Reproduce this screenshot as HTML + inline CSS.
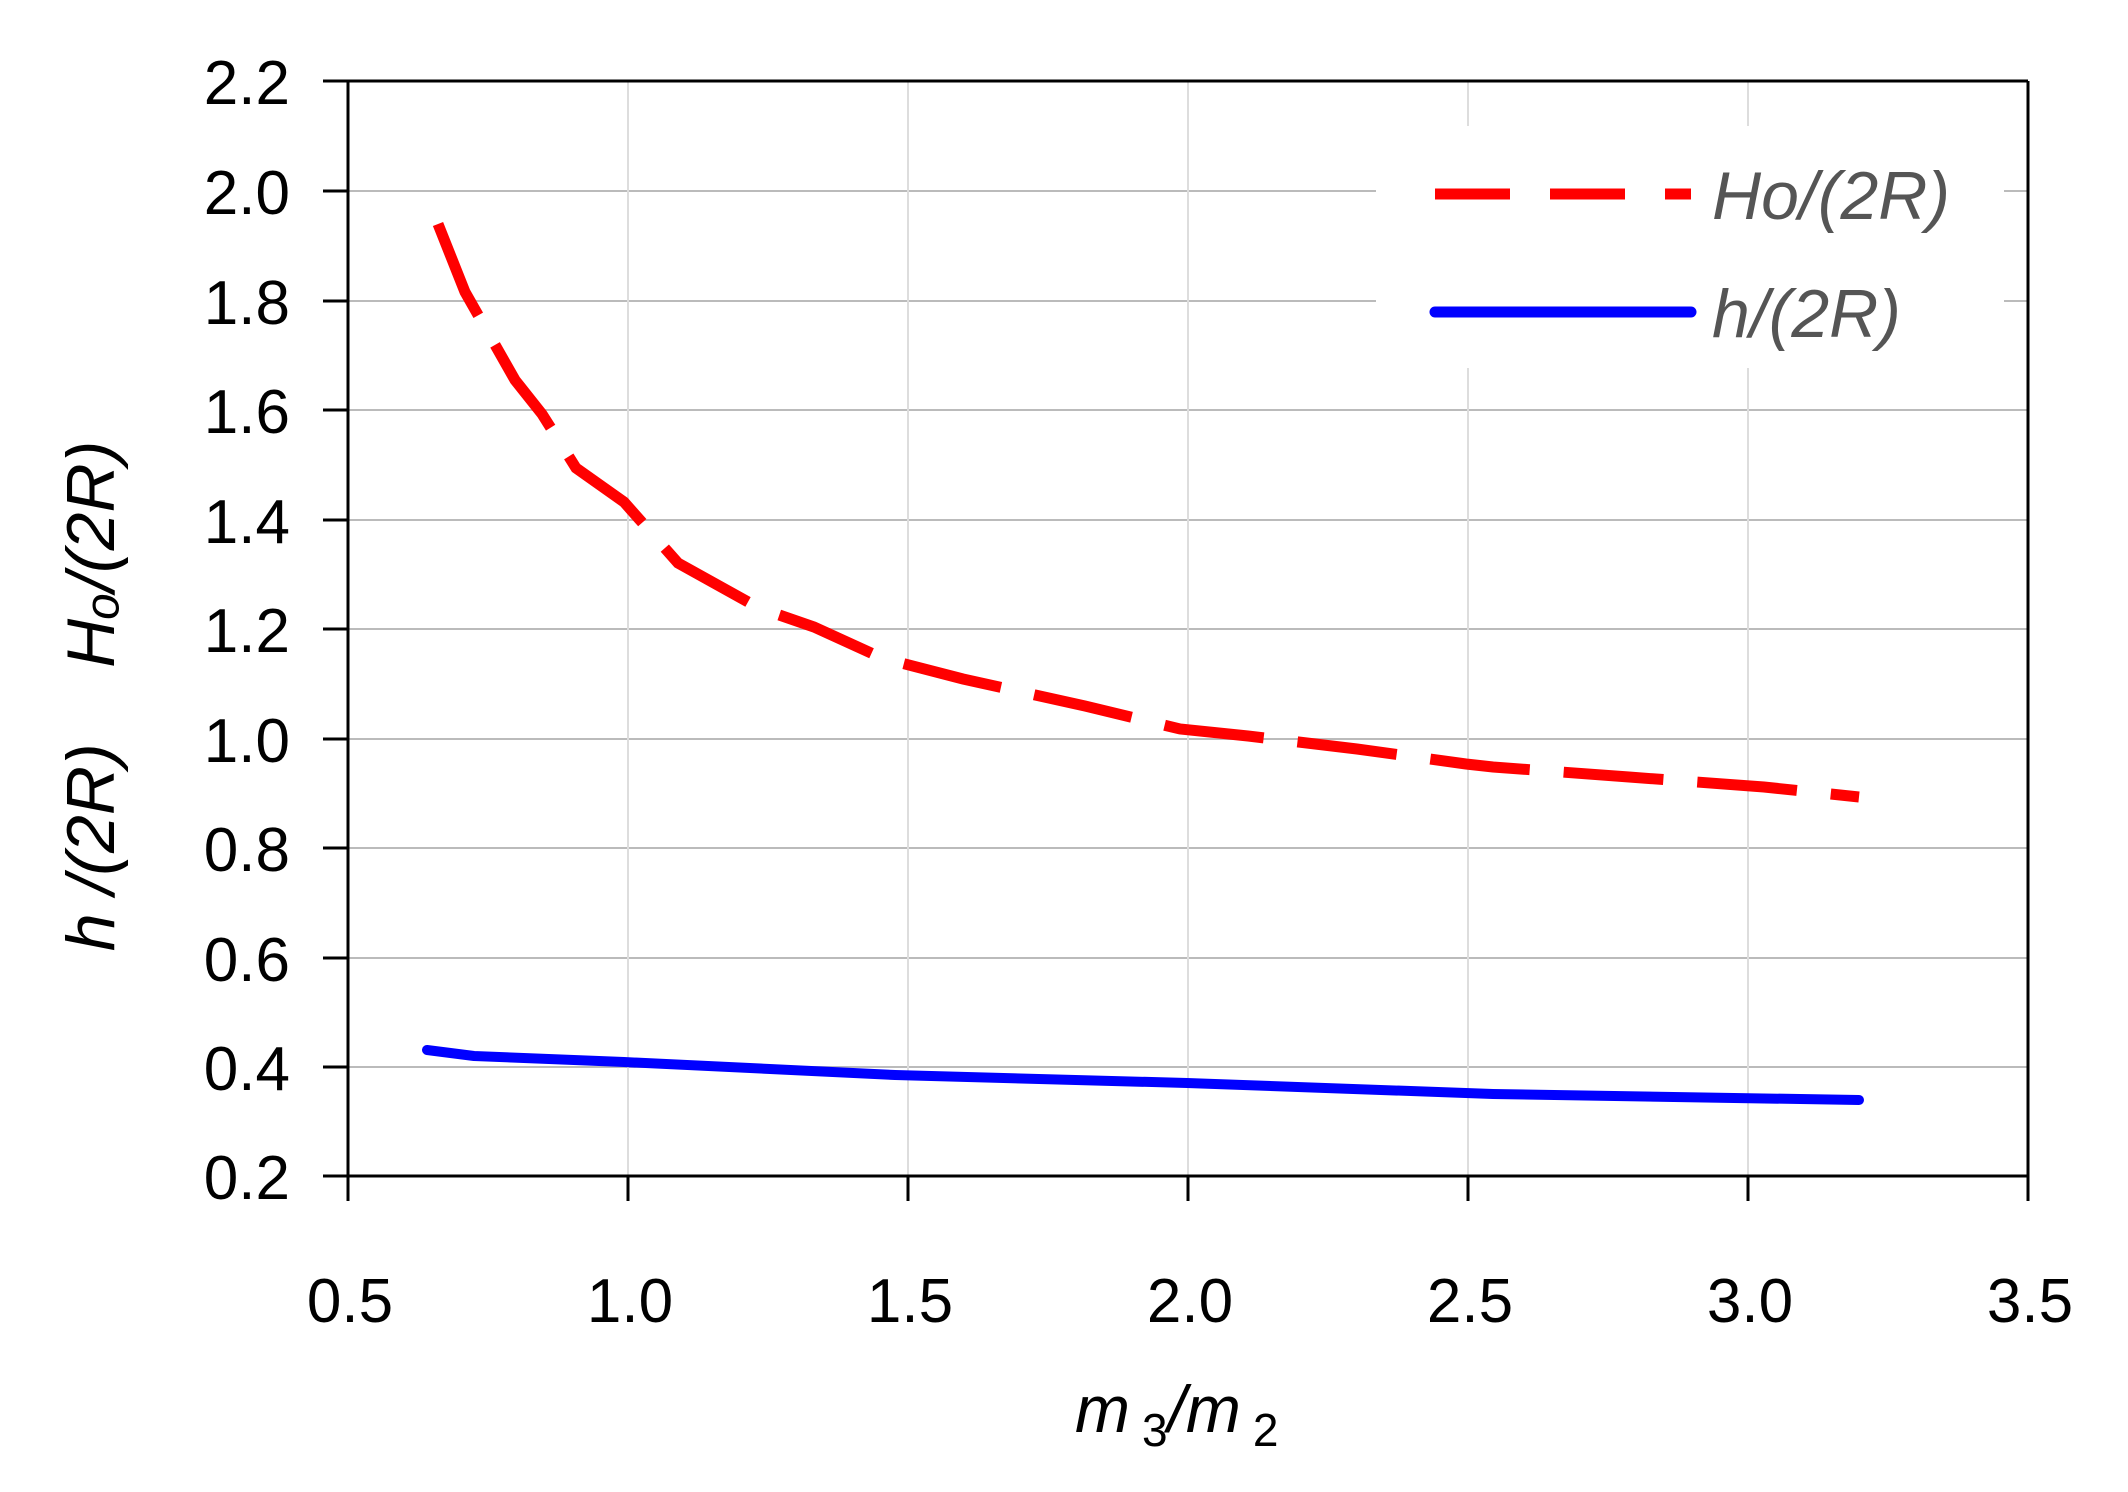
<!DOCTYPE html>
<html><head><meta charset="utf-8"><style>
html,body{margin:0;padding:0;background:#fff;}
svg{display:block;}
text{font-family:"Liberation Sans",sans-serif;}
</style></head><body>
<svg width="2128" height="1492" viewBox="0 0 2128 1492" xmlns="http://www.w3.org/2000/svg">
<rect width="2128" height="1492" fill="#fff"/>
<g stroke="#bbb" stroke-width="2">
<line x1="348" y1="191" x2="2028" y2="191"/>
<line x1="348" y1="301" x2="2028" y2="301"/>
<line x1="348" y1="410" x2="2028" y2="410"/>
<line x1="348" y1="520" x2="2028" y2="520"/>
<line x1="348" y1="629" x2="2028" y2="629"/>
<line x1="348" y1="739" x2="2028" y2="739"/>
<line x1="348" y1="848" x2="2028" y2="848"/>
<line x1="348" y1="958" x2="2028" y2="958"/>
<line x1="348" y1="1067" x2="2028" y2="1067"/>
</g>
<g stroke="#ddd" stroke-width="2">
<line x1="628" y1="81" x2="628" y2="1176"/>
<line x1="908" y1="81" x2="908" y2="1176"/>
<line x1="1188" y1="81" x2="1188" y2="1176"/>
<line x1="1468" y1="81" x2="1468" y2="1176"/>
<line x1="1748" y1="81" x2="1748" y2="1176"/>
</g>
<rect x="1376" y="126" width="628" height="242" fill="#fff"/>
<g stroke="#000" stroke-width="3" fill="none">
<line x1="323" y1="81" x2="2028" y2="81"/>
<line x1="348" y1="81" x2="348" y2="1201"/>
<line x1="323" y1="1176" x2="2028" y2="1176"/>
<line x1="2028" y1="81" x2="2028" y2="1201"/>
</g>
<g stroke="#000" stroke-width="3">
<line x1="323" y1="191" x2="348" y2="191"/><line x1="323" y1="301" x2="348" y2="301"/>
<line x1="323" y1="410" x2="348" y2="410"/><line x1="323" y1="520" x2="348" y2="520"/>
<line x1="323" y1="629" x2="348" y2="629"/><line x1="323" y1="739" x2="348" y2="739"/>
<line x1="323" y1="848" x2="348" y2="848"/><line x1="323" y1="958" x2="348" y2="958"/>
<line x1="323" y1="1067" x2="348" y2="1067"/>
<line x1="628" y1="1176" x2="628" y2="1201"/><line x1="908" y1="1176" x2="908" y2="1201"/>
<line x1="1188" y1="1176" x2="1188" y2="1201"/><line x1="1468" y1="1176" x2="1468" y2="1201"/>
<line x1="1748" y1="1176" x2="1748" y2="1201"/>
</g>
<g font-size="62" text-anchor="end" fill="#000">
<text x="290" y="104">2.2</text><text x="290" y="214">2.0</text><text x="290" y="324">1.8</text>
<text x="290" y="433">1.6</text><text x="290" y="543">1.4</text><text x="290" y="652">1.2</text>
<text x="290" y="762">1.0</text><text x="290" y="871">0.8</text><text x="290" y="981">0.6</text>
<text x="290" y="1090">0.4</text><text x="290" y="1199">0.2</text>
</g>
<g font-size="62" text-anchor="middle" fill="#000">
<text x="350" y="1322">0.5</text><text x="630" y="1322">1.0</text><text x="910" y="1322">1.5</text>
<text x="1190" y="1322">2.0</text><text x="1470" y="1322">2.5</text><text x="1750" y="1322">3.0</text>
<text x="2030" y="1322">3.5</text>
</g>
<text x="1075" y="1432" font-size="66" font-style="italic">m<tspan font-style="normal" font-size="46" dx="12" dy="14">3</tspan><tspan dy="-14">/m</tspan><tspan font-style="normal" font-size="46" dx="12" dy="14">2</tspan></text>
<text transform="translate(114,696) rotate(-90)" font-size="68" font-style="italic" text-anchor="middle" xml:space="preserve">h /(2R)    Hₒ/(2R)</text>
<polyline fill="none" stroke="#f00" stroke-width="11" stroke-dasharray="100,34"
 points="438,224 465,292 515,380 542,414 576,468 624,502 678,563 759,608 814,627 882,658 963,679 1085,706 1180,729 1248,736 1357,749 1466,764 1493,767 1629,777 1764,787 1859,797"/>
<polyline fill="none" stroke="#00f" stroke-width="10" stroke-linecap="round" stroke-linejoin="round"
 points="427,1050 474,1056 624,1062 895,1075 1187,1083 1493,1094 1859,1100"/>
<line x1="1435" y1="194" x2="1691" y2="194" stroke="#f00" stroke-width="11" stroke-dasharray="75,40"/>
<line x1="1435" y1="312" x2="1691" y2="312" stroke="#00f" stroke-width="11" stroke-linecap="round"/>
<g font-size="68" font-style="italic" fill="#555">
<text x="1712" y="219">Ho/(2R)</text>
<text x="1712" y="337">h/(2R)</text>
</g>
</svg>
</body></html>
